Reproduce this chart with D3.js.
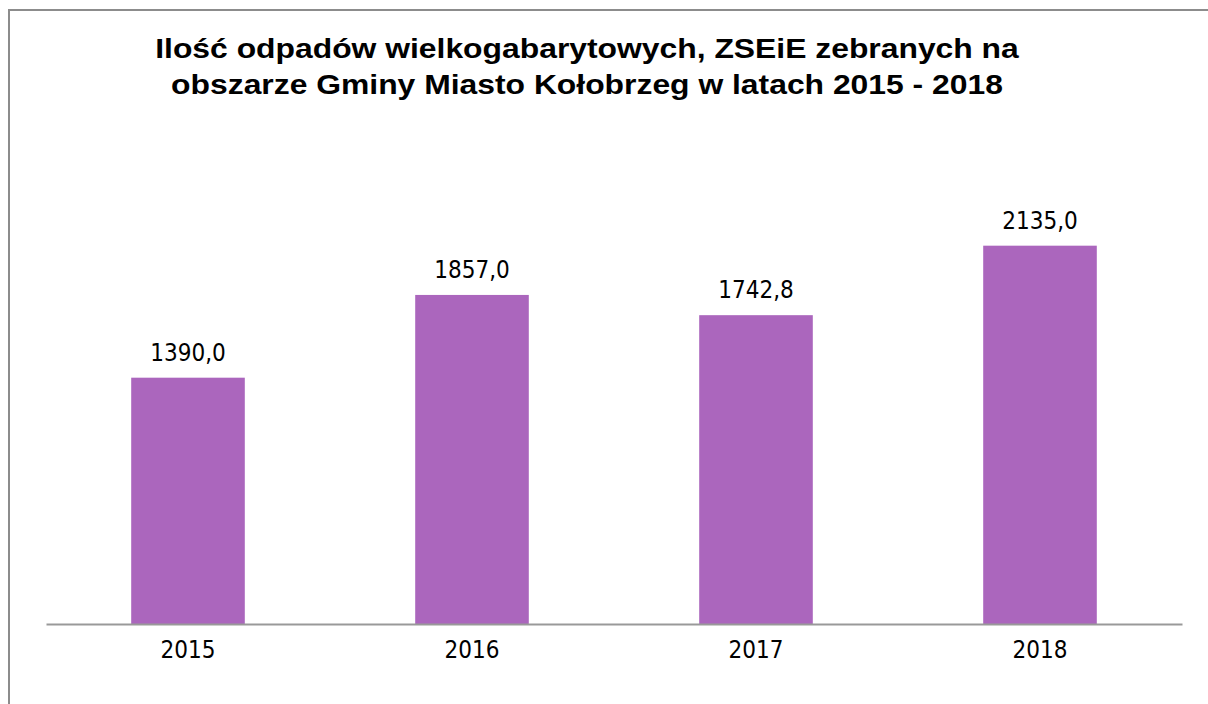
<!DOCTYPE html>
<html>
<head>
<meta charset="utf-8">
<script src="https://cdn.jsdelivr.net/npm/d3@7"></script>
<style>
  body { margin: 0; background: #fff; }
</style>
</head>
<body>
<div id="chart"></div>
<script>
// data
const years = ["2015", "2016", "2017", "2018"];
const values = [1390.0, 1857.0, 1742.8, 2135.0];
const titleLines = [
  "Ilość odpadów wielkogabarytowych, ZSEiE zebranych na",
  "obszarze Gminy Miasto Kołobrzeg w latach 2015 - 2018"
];

const width = 1208;
const height = 704;
const margin = { top: 181, right: 26, bottom: 80, left: 46 };

const svg = d3.select("#chart")
  .append("svg")
  .attr("width", width)
  .attr("height", height);

// chart frame (cropped at right and bottom like the source)
svg.append("rect")
  .attr("x", 9)
  .attr("y", 10)
  .attr("width", width + 20)
  .attr("height", height + 20)
  .attr("fill", "none")
  .attr("stroke", "#8c8c8c")
  .attr("stroke-width", 2);

// title - the source image is stretched sideways, so scale it the same way
svg.append("g")
  .attr("transform", "translate(587,0) scale(1.18,1)")
  .append("text")
  .attr("y", 58)
  .attr("text-anchor", "middle")
  .attr("font-family", "'Liberation Sans', Arial, sans-serif")
  .attr("font-weight", "bold")
  .attr("font-size", 27)
  .attr("fill", "#000")
  .selectAll("tspan")
  .data(titleLines)
  .enter()
  .append("tspan")
  .attr("x", 0)
  .attr("dy", (d, i) => i === 0 ? 0 : 36)
  .text(d => d);

const x = d3.scaleBand()
  .domain(years)
  .range([margin.left, width - margin.right])
  .paddingInner(0.6)
  .paddingOuter(0.3);

const y = d3.scaleLinear()
  .domain([0, 2500])
  .range([height - margin.bottom, margin.top]);

const base = y(0);

// bars
svg.selectAll("rect.bar")
  .data(values)
  .enter()
  .append("rect")
  .attr("class", "bar")
  .attr("x", (d, i) => x(years[i]))
  .attr("y", d => y(d))
  .attr("width", x.bandwidth())
  .attr("height", d => base - y(d))
  .attr("fill", "#ab66bd");

// value labels
const fmt = d3.format(".1f");
svg.selectAll("text.val")
  .data(values)
  .enter()
  .append("text")
  .attr("class", "val")
  .attr("x", (d, i) => x(years[i]) + x.bandwidth() / 2)
  .attr("y", d => y(d) - 17)
  .attr("text-anchor", "middle")
  .attr("font-family", "'DejaVu Sans Condensed', 'DejaVu Sans', sans-serif")
  .attr("font-size", 24)
  .attr("fill", "#000")
  .text(d => fmt(d).replace(".", ","));

// x axis
const xAxis = svg.append("g")
  .attr("transform", `translate(0,${base})`)
  .call(d3.axisBottom(x).tickSize(0).tickPadding(17));

xAxis.select(".domain")
  .attr("stroke", "#999")
  .attr("stroke-width", 2);

xAxis.selectAll("text")
  .attr("font-family", "'DejaVu Sans Condensed', 'DejaVu Sans', sans-serif")
  .attr("font-size", 24)
  .attr("fill", "#000");
</script>
</body>
</html>
